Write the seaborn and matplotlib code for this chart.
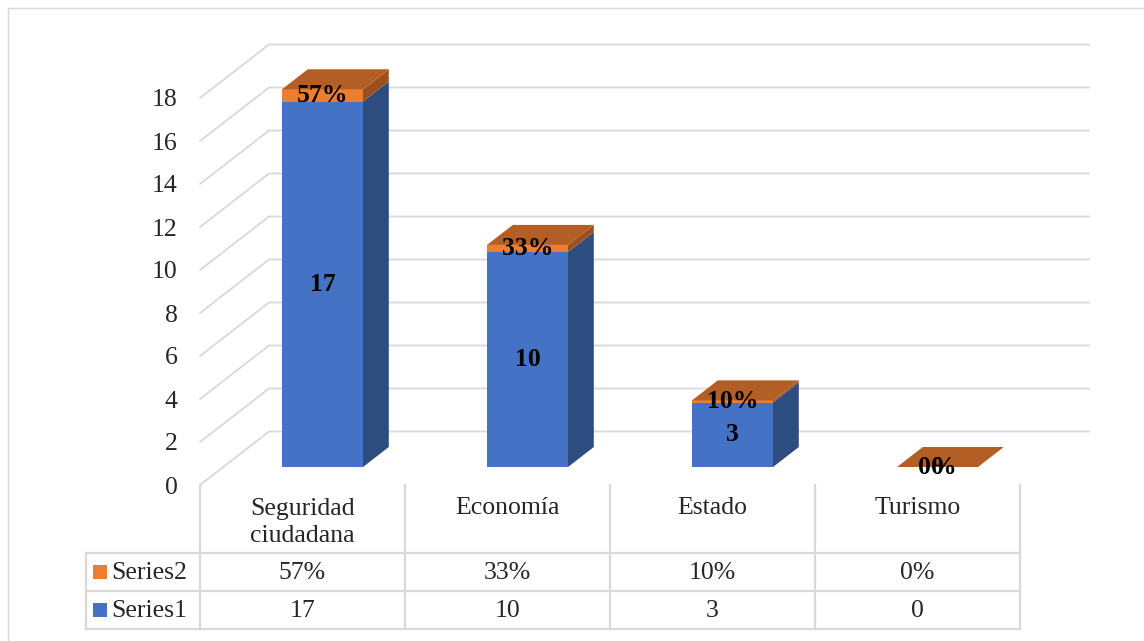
import matplotlib
matplotlib.use("Agg")
import matplotlib.pyplot as plt
from matplotlib.patches import Polygon, Rectangle
import seaborn as sns

# ---- data -------------------------------------------------------------
categories = ["Seguridad\nciudadana", "Economía", "Estado", "Turismo"]
series1 = [17, 10, 3, 0]
series2 = [0.57, 0.33, 0.10, 0.0]
series_labels = ["Series1", "Series2"]
y_ticks = list(range(0, 19, 2))

# ---- styling ----------------------------------------------------------
sns.set_style("white")
plt.rcParams["font.family"] = ["Liberation Serif", "DejaVu Serif"]
FS = 18.5
BLUE, BLUE_SIDE = "#4472C4", "#2D4C80"
ORANGE, ORANGE_SIDE, TOP = "#ED7D31", "#9C5020", "#B35E24"
GRID = "#D9D9D9"

# ---- layout (pixels) --------------------------------------------------
W, H = 1144, 641
X0, X1 = 200, 1020          # front edge of the floor
Y0 = 485                    # value 0 on the front edge
PX_UNIT = 21.5              # pixels per value unit
DEPTH = (69, 53.5)          # full depth of the 3-D box in pixels
F0, F1 = 0.336, 0.71        # bar front / back as fraction of depth
BAR_SHIFT_X = 20            # horizontal set-back of the bar front plane
BAR_W = 0.395
YMAX = 18

fig = plt.figure(figsize=(W / 100, H / 100), dpi=100)

bg = fig.add_axes([0, 0, 1, 1])
bg.set_xlim(0, W)
bg.set_ylim(H, 0)
bg.axis("off")

ax_w = (X1 - X0) / W
ax_h = YMAX * PX_UNIT / H
ax = fig.add_axes([X0 / W, (H - Y0) / H, ax_w, ax_h])
ax.set_xlim(-0.5, len(categories) - 0.5)
ax.set_ylim(0, YMAX)
ax.patch.set_visible(False)
for s in ax.spines.values():
    s.set_visible(False)

col_px = (X1 - X0) / len(categories)
DX = DEPTH[0] / col_px
DY = DEPTH[1] / PX_UNIT

# walls: left-wall diagonals + back-wall gridlines
for v in y_ticks:
    ax.plot([-0.5, -0.5 + DX, len(categories) - 0.5 + DX],
            [v, v + DY, v + DY], color=GRID, lw=1.3, clip_on=False, zorder=0)

ax.set_yticks(y_ticks)
ax.set_yticklabels([str(v) for v in y_ticks])
ax.set_xticks(range(len(categories)))
ax.set_xticklabels(categories, linespacing=1.3)
ax.tick_params(axis="y", length=0, pad=16, labelsize=FS)
ax.tick_params(axis="x", length=0, pad=9, labelsize=FS)
ax.grid(False)

# ---- bars (front plane set back by F0 of the depth) -------------------
axb = fig.add_axes([(X0 + BAR_SHIFT_X) / W,
                    (H - Y0 + F0 * DEPTH[1]) / H, ax_w, ax_h])
totals = [a + b for a, b in zip(series1, series2)]
sns.barplot(x=categories, y=totals, color=ORANGE, width=BAR_W, saturation=1,
            errorbar=None, linewidth=0, ax=axb)
sns.barplot(x=categories, y=series1, color=BLUE, width=BAR_W, saturation=1,
            errorbar=None, linewidth=0, ax=axb)
axb.set_xlim(-0.5, len(categories) - 0.5)
axb.set_ylim(0, YMAX)
axb.axis("off")
axb.patch.set_visible(False)

bdx = (F1 - F0) * DX
bdy = (F1 - F0) * DY
for i, (s1, s2) in enumerate(zip(series1, series2)):
    left, right = i - BAR_W / 2, i + BAR_W / 2
    for lo, hi, col in [(0, s1, BLUE_SIDE), (s1, s1 + s2, ORANGE_SIDE)]:
        if hi > lo:
            axb.add_patch(Polygon([(right, lo), (right + bdx, lo + bdy),
                                   (right + bdx, hi + bdy), (right, hi)],
                                  closed=True, facecolor=col, lw=0,
                                  clip_on=False))
    top = s1 + s2
    axb.add_patch(Polygon([(left, top), (right, top),
                           (right + bdx, top + bdy), (left + bdx, top + bdy)],
                          closed=True, facecolor=TOP, lw=0, clip_on=False))
    axb.text(i, s1 / 2, f"{s1}", ha="center", va="center",
             fontsize=FS, fontweight="bold", color="black", zorder=5)
    axb.text(i, s1 + s2 / 2, f"{s2:.0%}", ha="center", va="center",
             fontsize=FS, fontweight="bold", color="black", zorder=5)

# ---- data table -------------------------------------------------------
LEG_X = 86
ROW_TOP, ROW_MID, ROW_BOT = 553, 591, 629
edges = [X0 + col_px * k for k in range(len(categories) + 1)]
tkw = dict(color=GRID, lw=1.6, solid_capstyle="projecting")
for x in edges:
    bg.plot([x, x], [Y0, ROW_BOT], **tkw)
bg.plot([LEG_X, LEG_X], [ROW_TOP, ROW_BOT], **tkw)
for y in (ROW_TOP, ROW_MID, ROW_BOT):
    bg.plot([LEG_X, X1], [y, y], **tkw)

rows = [(series_labels[1], ORANGE, [f"{v:.0%}" for v in series2]),
        (series_labels[0], BLUE, [f"{v}" for v in series1])]
for (name, col, texts), (ya, yb) in zip(rows, [(ROW_TOP, ROW_MID),
                                                (ROW_MID, ROW_BOT)]):
    yc = (ya + yb) / 2
    bg.add_patch(Rectangle((93, yc - 7), 14, 14, facecolor=col, lw=0))
    bg.text(111, yc + 1, name, ha="left", va="center", fontsize=FS)
    for k, t in enumerate(texts):
        bg.text((edges[k] + edges[k + 1]) / 2, yc + 1, t,
                ha="center", va="center", fontsize=FS)

# chart-area frame
bg.plot([8, W + 5], [8, 8], color=GRID, lw=1.0)
bg.plot([8, 8], [8, H + 5], color=GRID, lw=1.0)

fig.savefig("out.png", dpi=100)
